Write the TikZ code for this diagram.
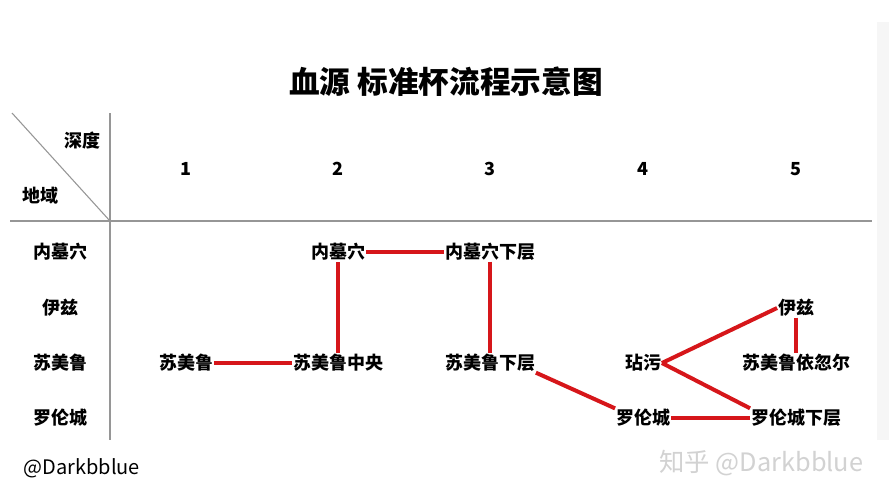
\documentclass[tikz,border=0pt]{standalone}
\usepackage{fontspec}
\setmainfont{Noto Sans CJK SC}
\usepackage{tikz}
\usetikzlibrary{positioning}

\definecolor{routered}{RGB}{214,22,26}
\definecolor{gridgray}{RGB}{150,150,150}

\tikzset{
  cell/.style={inner sep=0.5pt, font=\fontsize{13.5}{15}\selectfont\bfseries},
  route/.style={draw=routered, line width=3pt},
  gridline/.style={draw=gridgray, line width=0.8pt}
}

\begin{document}
\begin{tikzpicture}[x=0.75pt,y=0.75pt,yscale=-1,xscale=1]
\useasboundingbox (0,0) rectangle (889,500);
\fill[white] (0,0) rectangle (889,500);
%Shape: Rectangle [id:strip]
\fill[gray!7] (877,22) rectangle (889,440);

%Title
\node[font=\fontsize{23}{26}\selectfont\bfseries] (title) at (446,82) {血源 标准杯流程示意图};

%Grid
\draw[gridline] (10,221) -- (872,221);
\draw[gridline] (110,113) -- (110,440);
\draw[gridline] (12,113) -- (110,221);

%Headers
\node[cell] (hdepth) at (82,141) {深度};
\node[cell] (hregion) at (40,196) {地域};
\node[cell] (c1) at (186,169) {1};
\node[cell] (c2) at (338,169) {2};
\node[cell] (c3) at (490,169) {3};
\node[cell] (c4) at (643,169) {4};
\node[cell] (c5) at (796,169) {5};
\node[cell] (r1) at (60,252) {内墓穴};
\node[cell] (r2) at (60,308) {伊兹};
\node[cell] (r3) at (60,363) {苏美鲁};
\node[cell] (r4) at (60,418) {罗伦城};

%Stages
\node[cell] (nm) at (338,252) {内墓穴};
\node[cell] (nmx) at (490,252) {内墓穴下层};
\node[cell] (yz) at (796,308) {伊兹};
\node[cell] (sm) at (186,363) {苏美鲁};
\node[cell] (smz) at (338,363) {苏美鲁中央};
\node[cell] (smx) at (490,363) {苏美鲁下层};
\node[cell] (dw) at (643,363) {玷污};
\node[cell] (smy) at (796,363) {苏美鲁依忽尔};
\node[cell] (lc) at (643,418) {罗伦城};
\node[cell] (lcx) at (796,418) {罗伦城下层};

%Route
\draw[route] (sm) -- (smz);
\draw[route] (smz) -- (nm);
\draw[route] (nm) -- (nmx);
\draw[route] (nmx) -- (smx);
\draw[route] (smx.south east) -- (lc.north west);
\draw[route] (lc) -- (lcx);
\draw[route] (lcx.north west) -- (dw.east);
\draw[route] (dw.east) -- (yz.west);
\draw[route] (yz) -- (smy);

%Signatures
\node[anchor=west, font=\fontsize{15}{17}\selectfont] (sig) at (19,468) {@Darkbblue};
\node[anchor=east, text=gray!35, font=\fontsize{19}{21}\selectfont] (mark) at (868,463) {知乎 @Darkbblue};
\end{tikzpicture}
\end{document}
